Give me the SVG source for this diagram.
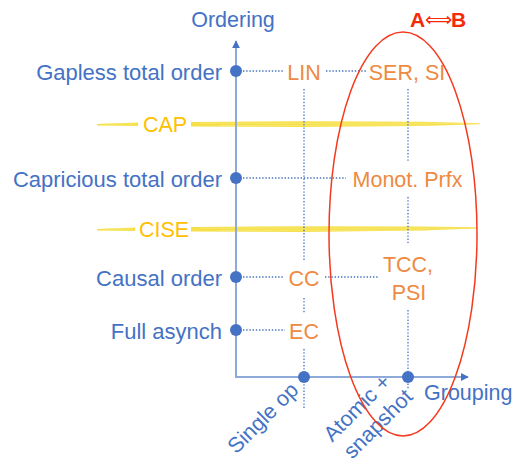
<svg xmlns="http://www.w3.org/2000/svg" width="519" height="463" viewBox="0 0 519 463">
  <style>
    .lbl { font-family: "Liberation Sans", Arial, sans-serif; font-size: 21.5px; fill: #4472c4; }
    .side { font-size: 22px; }
    .cls { font-family: "Liberation Sans", Arial, sans-serif; font-size: 21.5px; fill: #ee8a42; text-anchor: middle; }
    .thr { font-family: "Liberation Sans", Arial, sans-serif; font-size: 21.5px; fill: #ffc000; }
    .axis { stroke: #8eaadb; stroke-width: 2; fill: none; }
    .dot { fill: #4472c4; }
    .guide { stroke: #4472c4; stroke-width: 1.3; stroke-dasharray: 1.4 1.8; fill: none; }
    .band { fill: #f6e04a; }
    .streak { stroke: #f9ea7a; stroke-width: 1; fill: none; opacity: 0.8; }
  </style>
  <defs>
    <marker id="tip" viewBox="0 0 10 10" refX="9" refY="5" markerWidth="4" markerHeight="4" orient="auto">
      <path d="M0,0 L10,5 L0,10 z" fill="#4472c4"/>
    </marker>
  </defs>

  <!-- yellow threshold bands -->
  <g id="band-cap">
    <path class="band" d="M97,124 L138,122.5 L138,126 L97,125.5 Z"/>
    <path class="band" d="M191,122 L300,121.3 L420,121.8 L480,123.2 L480,124.3 L420,126 L300,127 L191,126.5 Z"/>
    <path class="streak" d="M200,123 L470,123.3 M105,124 L135,124 M220,125.5 L430,125"/>
    <text class="thr" x="143" y="131.5">CAP</text>
  </g>
  <g id="band-cise">
    <path class="band" d="M97,229 L135,227.5 L135,231 L97,230.5 Z"/>
    <path class="band" d="M191,227 L300,226.3 L420,226.5 L477,227.3 L477,228.5 L420,230.5 L300,232 L191,231.5 Z"/>
    <path class="streak" d="M200,228 L465,228 M105,229 L132,229 M220,230.5 L430,230"/>
    <text class="thr" x="139" y="236.5">CISE</text>
  </g>

  <!-- connectors: guide lines -->
  <g id="connectors">
    <path class="guide" d="M243,71 H283 M326,71 H366"/>
    <path class="guide" d="M243,178 H346"/>
    <path class="guide" d="M243,277 H283 M325,277 H379"/>
    <path class="guide" d="M243,330 H285"/>
    <path class="guide" d="M304,89 V260 M304,298 V313 M304,349 V408"/>
    <path class="guide" d="M408,89 V162 M408,197 V243 M408,310 V390"/>
  </g>

  <!-- axes -->
  <g id="axes">
    <path class="axis" d="M236,377 V41" marker-end="url(#tip)"/>
    <path class="axis" d="M235,377 H468" marker-end="url(#tip)"/>
    <text class="lbl" x="233" y="27" text-anchor="middle">Ordering</text>
    <text class="lbl" x="424" y="400">Grouping</text>
  </g>

  <!-- ordering levels -->
  <g id="gapless"><circle class="dot" cx="236" cy="71" r="6"/><text class="lbl side" x="222" y="80" text-anchor="end">Gapless total order</text></g>
  <g id="capricious"><circle class="dot" cx="236" cy="178" r="6"/><text class="lbl side" x="222" y="187" text-anchor="end">Capricious total order</text></g>
  <g id="causal"><circle class="dot" cx="236" cy="277" r="6"/><text class="lbl side" x="222" y="286" text-anchor="end">Causal order</text></g>
  <g id="asynch"><circle class="dot" cx="236" cy="330" r="6"/><text class="lbl side" x="222" y="339" text-anchor="end">Full asynch</text></g>

  <!-- grouping levels -->
  <g id="single-op"><circle class="dot" cx="304" cy="377" r="6"/><text class="lbl" transform="translate(268,423) rotate(-45)" text-anchor="middle">Single op</text></g>
  <g id="atomic"><circle class="dot" cx="408" cy="377" r="6"/>
    <text class="lbl" transform="translate(362,413) rotate(-45)" text-anchor="middle">Atomic +</text>
    <text class="lbl" transform="translate(383,429) rotate(-45)" text-anchor="middle">snapshot</text>
  </g>

  <!-- consistency models -->
  <g id="lin"><text class="cls" x="304" y="80">LIN</text></g>
  <g id="ser-si"><text class="cls" x="407" y="80">SER, SI</text></g>
  <g id="monot"><text class="cls" x="407.5" y="187">Monot. Prfx</text></g>
  <g id="cc"><text class="cls" x="304" y="286">CC</text></g>
  <g id="tcc-psi"><text class="cls" x="408" y="272">TCC,</text><text class="cls" x="409" y="300">PSI</text></g>
  <g id="ec"><text class="cls" x="304" y="339">EC</text></g>

  <!-- equivalence region -->
  <g id="equiv">
    <ellipse cx="403" cy="234" rx="74" ry="202" fill="none" stroke="#f43a1e" stroke-width="1.5"/>
    <text font-family="'Liberation Sans', 'DejaVu Sans', Arial, sans-serif" font-weight="bold" font-size="21" fill="#f42a0a" y="27"><tspan x="410">A</tspan><tspan x="425" y="26" font-family="'DejaVu Sans', sans-serif" font-weight="normal" font-size="19">⟺</tspan><tspan x="451" y="27">B</tspan></text>
  </g>
</svg>
